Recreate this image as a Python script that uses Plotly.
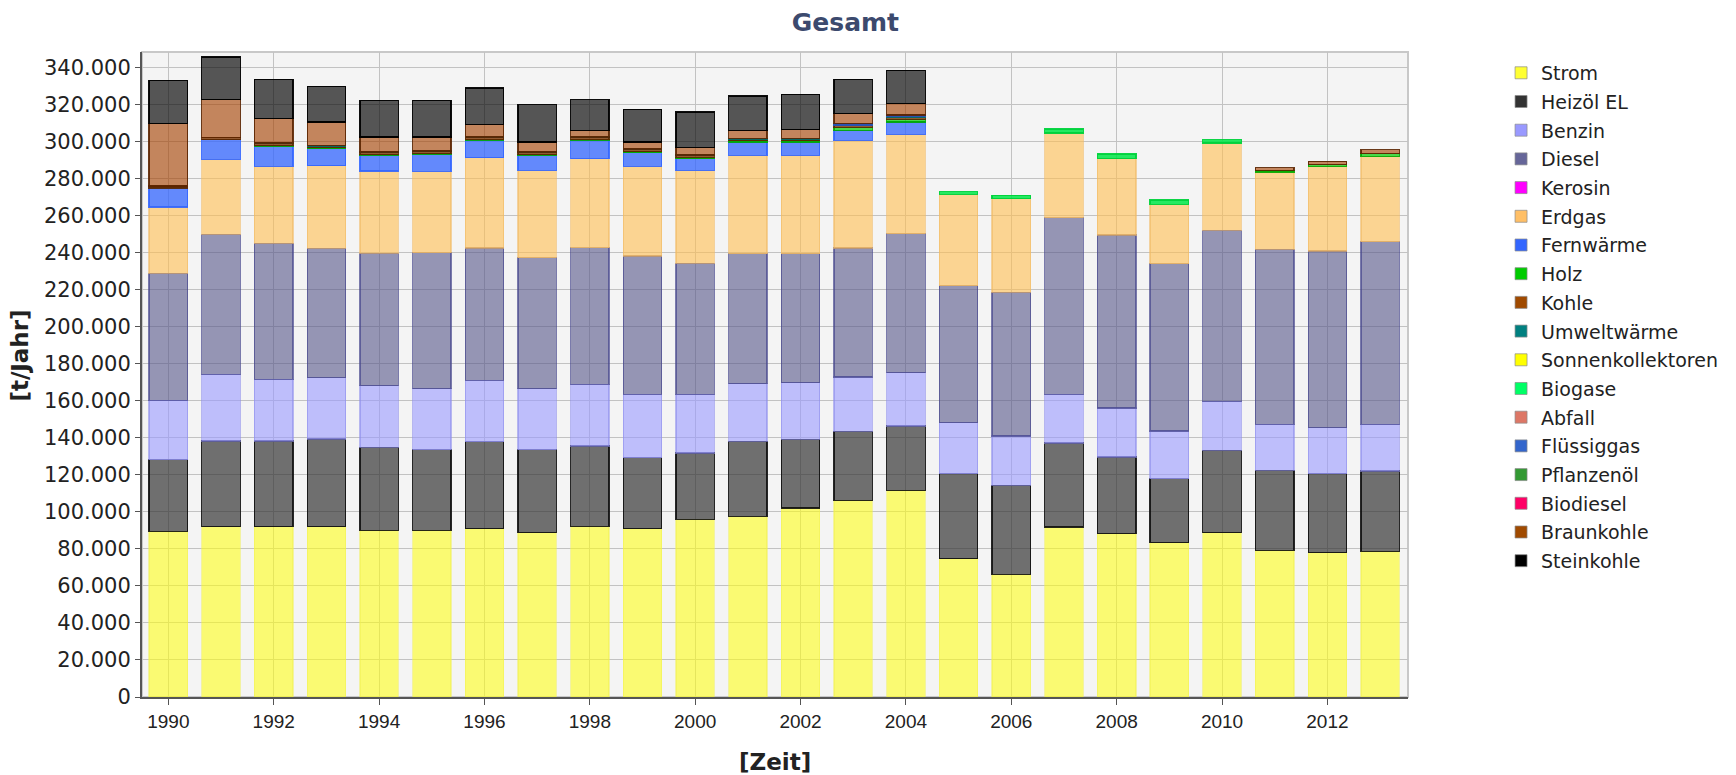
import plotly.graph_objects as go

years = list(range(1990, 2014))

strom = [89500, 92100, 92100, 92100, 90000, 90100, 91000, 88800, 92200, 91000, 96000, 97600,
         102100, 106300, 111700, 74800, 66300, 91900, 88300, 83400, 88800, 79300, 78000, 78800]
heizoel = [38700, 46300, 46300, 47300, 44900, 43600, 47000, 44900, 43500, 38400, 35900, 40600,
           37200, 37300, 34800, 45900, 48100, 45400, 41400, 34600, 44500, 43200, 42700, 43300]
benzin = [32100, 36000, 33300, 33100, 33400, 33000, 33200, 33000, 33300, 34200, 31700, 31200,
          30600, 29400, 28800, 27600, 26700, 26300, 26500, 25800, 26500, 24900, 24900, 25300]
diesel = [68600, 75700, 73500, 70000, 71500, 73500, 71500, 70800, 73900, 74800, 70800, 70200,
          69700, 69700, 75200, 74100, 77700, 95500, 93500, 90400, 92500, 94500, 95500, 98700]
kerosin = [0] * 24
erdgas = [35900, 40500, 41600, 44700, 44500, 43900, 48800, 47200, 48100, 48400, 50300, 53200,
          53200, 58200, 53600, 49300, 50600, 45700, 41300, 32100, 47100, 41900, 45700, 46100]
fernwaerme = [10300, 10700, 10800, 9200, 8500, 9200, 9400, 8100, 9900, 7400, 6300, 7200,
              7200, 5400, 6700, 0, 0, 0, 0, 0, 0, 0, 0, 0]
holz = [0, 0, 400, 400, 400, 400, 400, 400, 400, 600, 600, 600,
        600, 1500, 1500, 0, 0, 0, 0, 0, 0, 800, 1000, 1400]
kohle = [1000, 1000, 1000, 1000, 1000, 1000, 1000, 1000, 1000, 1000, 1000, 1000,
         1000, 1000, 1000, 0, 0, 0, 0, 0, 0, 0, 0, 0]
umweltwaerme = [0, 0, 400, 400, 400, 400, 400, 400, 400, 400, 400, 400,
                400, 400, 400, 0, 0, 0, 0, 0, 0, 0, 0, 0]
sonnenkollektoren = [0] * 24
biogase = [0, 0, 0, 0, 0, 0, 0, 0, 0, 0, 0, 0,
           0, 0, 0, 1500, 1800, 2200, 2400, 2300, 1900, 0, 0, 0]
abfall = [0] * 24
fluessiggas = [0, 0, 0, 0, 0, 0, 0, 0, 0, 0, 0, 0,
               0, 800, 800, 0, 0, 0, 0, 0, 0, 0, 0, 0]
pflanzenoel = [0] * 24
biodiesel = [0] * 24
braunkohle = [33800, 20600, 13200, 12600, 8100, 7600, 6800, 5400, 3600, 3800, 4000, 4300,
              4700, 5300, 6200, 0, 0, 0, 0, 0, 0, 1500, 1700, 2200]
steinkohle = [23400, 23000, 21300, 19300, 19800, 19800, 19700, 20200, 16600, 17600, 19200, 18600,
              19100, 18600, 18000, 0, 0, 0, 0, 0, 0, 0, 0, 0]

# name, values, bar fill, bar outline, legend colour
series = [
    ("Strom", strom, "rgba(255,255,20,0.58)", "rgba(240,240,80,0.5)", "#ffff33"),
    ("Heizöl EL", heizoel, "rgba(51,51,51,0.69)", "rgba(15,15,15,0.9)", "#333333"),
    ("Benzin", benzin, "rgba(153,153,255,0.6)", "rgba(140,140,235,0.6)", "#9999ff"),
    ("Diesel", diesel, "rgba(85,85,136,0.6)", "rgba(70,70,140,0.7)", "#666699"),
    ("Kerosin", kerosin, "rgba(255,0,255,0.6)", "rgba(200,0,200,0.9)", "#ff00ff"),
    ("Erdgas", erdgas, "rgba(255,190,80,0.6)", "rgba(240,185,100,0.6)", "#ffbf66"),
    ("Fernwärme", fernwaerme, "rgba(51,102,255,0.75)", "rgba(51,102,255,0.9)", "#3366ff"),
    ("Holz", holz, "rgba(0,204,0,0.7)", "rgba(0,170,0,0.9)", "#00cc00"),
    ("Kohle", kohle, "rgba(120,50,0,0.8)", "rgba(90,40,0,0.9)", "#a04a00"),
    ("Umweltwärme", umweltwaerme, "rgba(0,128,128,0.75)", "rgba(0,110,110,0.9)", "#008080"),
    ("Sonnenkollektoren", sonnenkollektoren, "rgba(255,255,0,0.6)", "rgba(220,220,0,0.9)", "#ffff00"),
    ("Biogase", biogase, "rgba(0,230,70,0.85)", "rgba(0,210,60,0.95)", "#00ff66"),
    ("Abfall", abfall, "rgba(221,119,102,0.6)", "rgba(200,100,90,0.9)", "#dd7766"),
    ("Flüssiggas", fluessiggas, "rgba(51,102,204,0.7)", "rgba(40,80,180,0.9)", "#3366cc"),
    ("Pflanzenöl", pflanzenoel, "rgba(51,153,51,0.7)", "rgba(40,130,40,0.9)", "#339933"),
    ("Biodiesel", biodiesel, "rgba(255,0,102,0.6)", "rgba(220,0,90,0.9)", "#ff0066"),
    ("Braunkohle", braunkohle, "rgba(165,65,0,0.62)", "rgba(90,35,0,0.9)", "#a04a00"),
    ("Steinkohle", steinkohle, "rgba(0,0,0,0.65)", "rgba(0,0,0,0.95)", "#000000"),
]

fig = go.Figure()
for name, vals, fill, outline, _ in series:
    fig.add_trace(go.Bar(
        x=years, y=[v if v else None for v in vals], name=name, showlegend=False,
        marker=dict(color=fill, line=dict(color=outline, width=1.3)),
    ))
for i, (name, vals, fill, outline, leg) in enumerate(series):
    fig.add_trace(go.Bar(
        x=[None], y=[None], name=name, legendgroup=f"g{i}", showlegend=True,
        marker=dict(color=leg, line=dict(color="rgba(140,140,140,0.7)", width=1)),
    ))

fig.update_layout(
    width=1736, height=775,
    barmode="stack", bargap=0.27,
    separators=",.",
    paper_bgcolor="white", plot_bgcolor="#f4f4f4",
    margin=dict(l=142, r=328, t=52, b=78, autoexpand=False),
    title=dict(text="<b>Gesamt</b>", x=0.487, xanchor="center", y=0.971, yanchor="middle",
               font=dict(family="DejaVu Sans", size=25, color="#3c4a6e")),
    legend=dict(x=1.0735, xanchor="left", y=0.997, yanchor="top", traceorder="grouped",
                tracegroupgap=1, font=dict(family="DejaVu Sans", size=19, color="#222"),
                bgcolor="rgba(0,0,0,0)"),
    xaxis=dict(range=[1989.5, 2013.53], tick0=1990, dtick=2, showgrid=True, gridcolor="#c2c2c2",
               gridwidth=1, zeroline=False, showline=True, linecolor="#555", linewidth=2,
               ticks="outside", ticklen=6, tickcolor="#555",
               tickfont=dict(family="Liberation Sans", size=19, color="#222")),
    yaxis=dict(range=[0, 348600], dtick=20000, tickformat=",d", showgrid=True, gridcolor="#c2c2c2",
               gridwidth=1, zeroline=False, showline=True, linecolor="#555", linewidth=2,
               ticks="outside", ticklen=5, tickcolor="#555",
               tickfont=dict(family="DejaVu Sans", size=21, color="#222")),
    shapes=[dict(type="rect", xref="paper", yref="paper", x0=0, y0=0, x1=1, y1=1,
                 line=dict(color="#c8c8c8", width=2), layer="below")],
    annotations=[
        dict(text="<b>[t/Jahr]</b>", xref="paper", yref="paper", x=-0.096, y=0.53,
             xanchor="center", yanchor="middle", textangle=-90, showarrow=False,
             font=dict(family="DejaVu Sans", size=23, color="#222")),
        dict(text="<b>[Zeit]</b>", xref="paper", yref="paper", x=0.5, y=-0.101,
             xanchor="center", yanchor="middle", showarrow=False,
             font=dict(family="DejaVu Sans", size=23, color="#222")),
    ],
)

fig.write_html("out.html", config={"displayModeBar": False},
               post_script="document.body.style.margin='0';document.body.style.overflow='hidden';")
